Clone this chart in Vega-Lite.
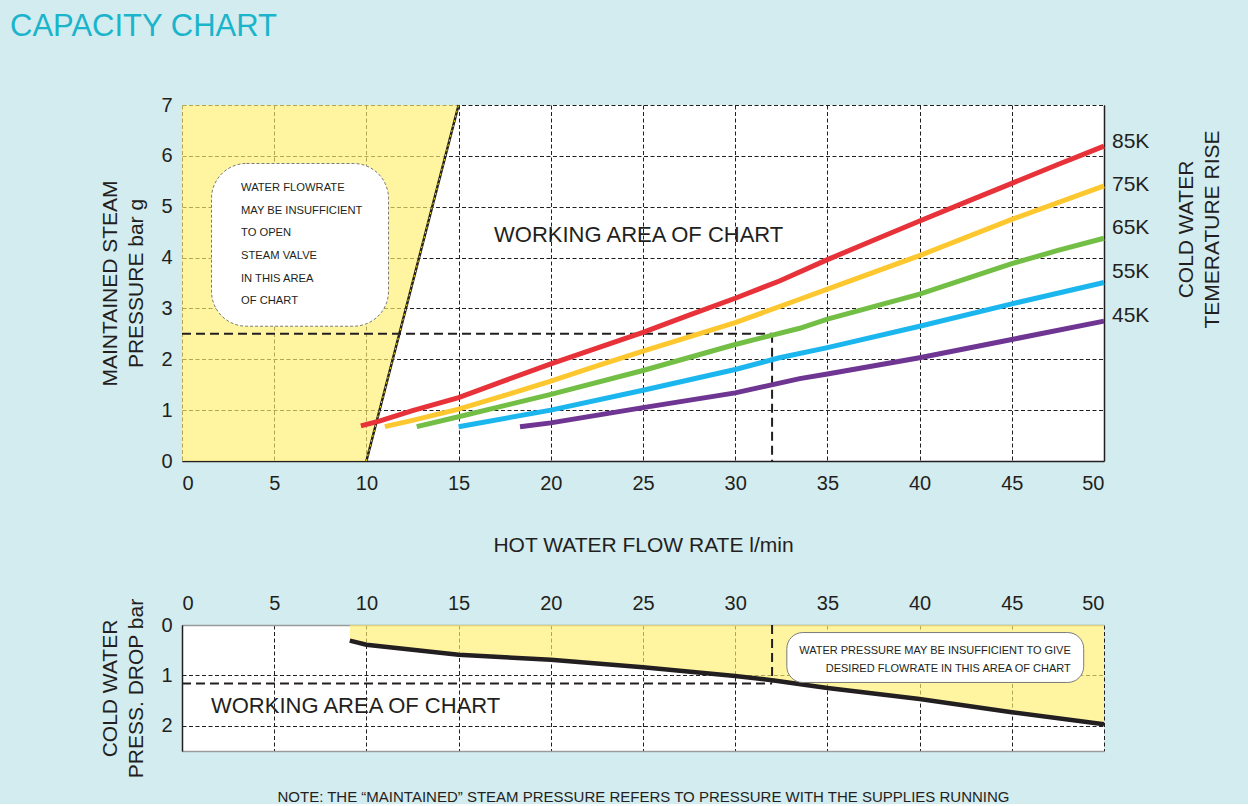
{
  "$schema": "https://vega.github.io/schema/vega-lite/v6.json",
  "background": "#d3ecf0",
  "padding": {"left": 10, "top": 11, "right": 28, "bottom": 0},
  "bounds": "flush",
  "spacing": 164,
  "config": {
    "font": "Liberation Sans",
    "view": {"stroke": null, "fill": "white"},
    "axis": {
      "labelFontSize": 20,
      "labelColor": "#231f20",
      "labelFont": "Liberation Sans",
      "ticks": false,
      "gridColor": "#231f20",
      "gridDash": [4, 2.5],
      "gridWidth": 1,
      "gridOpacity": 1,
      "domainColor": "#231f20",
      "domainWidth": 1.5,
      "titleFontSize": 21,
      "titleFontWeight": "normal",
      "titleColor": "#231f20",
      "titleFont": "Liberation Sans",
      "titleLineHeight": 26
    },
    "text": {"color": "#231f20", "font": "Liberation Sans"}
  },
  "datasets": {
    "curves": [
      {"rise": "85K", "flow": 9.7, "pressure": 0.69},
      {"rise": "85K", "flow": 10.74, "pressure": 0.79},
      {"rise": "85K", "flow": 12.5, "pressure": 0.99},
      {"rise": "85K", "flow": 15, "pressure": 1.245},
      {"rise": "85K", "flow": 17.5, "pressure": 1.58},
      {"rise": "85K", "flow": 20, "pressure": 1.91},
      {"rise": "85K", "flow": 22.5, "pressure": 2.22},
      {"rise": "85K", "flow": 25, "pressure": 2.53},
      {"rise": "85K", "flow": 27.5, "pressure": 2.87},
      {"rise": "85K", "flow": 30, "pressure": 3.2},
      {"rise": "85K", "flow": 32.4, "pressure": 3.54},
      {"rise": "85K", "flow": 35, "pressure": 3.96},
      {"rise": "85K", "flow": 37.5, "pressure": 4.34},
      {"rise": "85K", "flow": 40, "pressure": 4.72},
      {"rise": "85K", "flow": 42.5, "pressure": 5.09},
      {"rise": "85K", "flow": 45, "pressure": 5.46},
      {"rise": "85K", "flow": 47.5, "pressure": 5.83},
      {"rise": "85K", "flow": 50, "pressure": 6.19},
      {"rise": "75K", "flow": 11.0, "pressure": 0.675},
      {"rise": "75K", "flow": 12.5, "pressure": 0.8},
      {"rise": "75K", "flow": 15, "pressure": 1.02},
      {"rise": "75K", "flow": 17.5, "pressure": 1.29},
      {"rise": "75K", "flow": 20, "pressure": 1.57},
      {"rise": "75K", "flow": 22.5, "pressure": 1.87},
      {"rise": "75K", "flow": 25, "pressure": 2.16},
      {"rise": "75K", "flow": 27.5, "pressure": 2.44},
      {"rise": "75K", "flow": 30, "pressure": 2.72},
      {"rise": "75K", "flow": 33.5, "pressure": 3.18},
      {"rise": "75K", "flow": 35, "pressure": 3.38},
      {"rise": "75K", "flow": 40, "pressure": 4.04},
      {"rise": "75K", "flow": 45, "pressure": 4.75},
      {"rise": "75K", "flow": 50, "pressure": 5.41},
      {"rise": "65K", "flow": 12.73, "pressure": 0.675},
      {"rise": "65K", "flow": 15, "pressure": 0.87},
      {"rise": "65K", "flow": 20, "pressure": 1.31},
      {"rise": "65K", "flow": 25, "pressure": 1.78},
      {"rise": "65K", "flow": 30, "pressure": 2.29},
      {"rise": "65K", "flow": 33.5, "pressure": 2.61},
      {"rise": "65K", "flow": 35, "pressure": 2.79},
      {"rise": "65K", "flow": 40, "pressure": 3.28},
      {"rise": "65K", "flow": 45, "pressure": 3.88},
      {"rise": "65K", "flow": 47.5, "pressure": 4.14},
      {"rise": "65K", "flow": 50, "pressure": 4.38},
      {"rise": "55K", "flow": 15, "pressure": 0.675},
      {"rise": "55K", "flow": 20, "pressure": 1.0},
      {"rise": "55K", "flow": 25, "pressure": 1.39},
      {"rise": "55K", "flow": 30, "pressure": 1.8},
      {"rise": "55K", "flow": 32.4, "pressure": 2.03},
      {"rise": "55K", "flow": 35, "pressure": 2.23},
      {"rise": "55K", "flow": 40, "pressure": 2.65},
      {"rise": "55K", "flow": 45, "pressure": 3.09},
      {"rise": "55K", "flow": 50, "pressure": 3.51},
      {"rise": "45K", "flow": 18.33, "pressure": 0.675},
      {"rise": "45K", "flow": 20, "pressure": 0.75},
      {"rise": "45K", "flow": 25, "pressure": 1.05},
      {"rise": "45K", "flow": 30, "pressure": 1.34},
      {"rise": "45K", "flow": 33.5, "pressure": 1.62},
      {"rise": "45K", "flow": 35, "pressure": 1.71},
      {"rise": "45K", "flow": 40, "pressure": 2.03},
      {"rise": "45K", "flow": 45, "pressure": 2.39},
      {"rise": "45K", "flow": 50, "pressure": 2.75}
    ],
    "curveLabels": [
      {"rise": "85K", "labelPressure": 6.27},
      {"rise": "75K", "labelPressure": 5.43},
      {"rise": "65K", "labelPressure": 4.58},
      {"rise": "55K", "labelPressure": 3.72},
      {"rise": "45K", "labelPressure": 2.85}
    ],
    "valveLimit": [
      {"pressure": 0, "flow": 10},
      {"pressure": 7, "flow": 15}
    ],
    "dropLimit": [
      {"flow": 9.1, "drop": 0.31},
      {"flow": 10, "drop": 0.39},
      {"flow": 12.5, "drop": 0.49},
      {"flow": 15, "drop": 0.59},
      {"flow": 17.5, "drop": 0.64},
      {"flow": 20, "drop": 0.69},
      {"flow": 25, "drop": 0.84},
      {"flow": 30, "drop": 1.01},
      {"flow": 32.1, "drop": 1.1},
      {"flow": 35, "drop": 1.25},
      {"flow": 40, "drop": 1.47},
      {"flow": 45, "drop": 1.73},
      {"flow": 50, "drop": 1.97}
    ]
  },
  "vconcat": [
    {
      "width": 922,
      "height": 356,
      "title": {
        "text": "CAPACITY CHART",
        "anchor": "start",
        "frame": "group",
        "dx": -172,
        "offset": 52,
        "fontSize": 31,
        "fontWeight": "normal",
        "font": "Liberation Sans",
        "color": "#1ab4cb"
      },
      "resolve": {"axis": {"y": "independent"}},
      "layer": [
        {
          "data": {"name": "valveLimit"},
          "mark": {"type": "area", "orient": "horizontal", "color": "#fff06e", "opacity": 0.65},
          "encoding": {
            "y": {
              "field": "pressure", "type": "quantitative",
              "scale": {"domain": [0, 7], "nice": false},
              "axis": {
                "values": [0, 1, 2, 3, 4, 5, 6, 7],
                "grid": true, "domain": false, "labelPadding": 10,
                "title": ["MAINTAINED STEAM", "PRESSURE bar g"],
                "titlePadding": 14
              }
            },
            "x": {
              "field": "flow", "type": "quantitative",
              "scale": {"domain": [0, 50], "nice": false},
              "axis": {
                "values": [0, 5, 10, 15, 20, 25, 30, 35, 40, 45, 50],
                "grid": true, "domain": true, "labelPadding": 12, "title": null
              }
            },
            "x2": {"datum": 0}
          }
        },
        {
          "data": {"name": "valveLimit"},
          "mark": {"type": "line", "color": "#231f20", "strokeWidth": 2.5},
          "encoding": {
            "x": {"field": "flow", "type": "quantitative"},
            "y": {"field": "pressure", "type": "quantitative", "axis": null}
          }
        },
        {
          "data": {"name": "valveLimit"},
          "mark": {"type": "line", "color": "#ffe600", "strokeWidth": 1, "strokeDash": [2, 3]},
          "encoding": {
            "x": {"field": "flow", "type": "quantitative"},
            "y": {"field": "pressure", "type": "quantitative", "axis": null}
          }
        },
        {
          "data": {"values": [{"f1": 1.6, "f2": 11.2, "p1": 2.65, "p2": 5.85}]},
          "mark": {"type": "rect", "fill": "white", "stroke": "#7a7a7a", "strokeWidth": 1, "strokeDash": [3, 2], "cornerRadius": 35},
          "encoding": {
            "x": {"field": "f1", "type": "quantitative"},
            "x2": {"field": "f2"},
            "y": {"field": "p1", "type": "quantitative", "axis": null},
            "y2": {"field": "p2"}
          }
        },
        {
          "data": {"values": [
            {"line": "WATER FLOWRATE", "flow": 3.2, "pressure": 5.37},
            {"line": "MAY BE INSUFFICIENT", "flow": 3.2, "pressure": 4.92},
            {"line": "TO OPEN", "flow": 3.2, "pressure": 4.48},
            {"line": "STEAM VALVE", "flow": 3.2, "pressure": 4.03},
            {"line": "IN THIS AREA", "flow": 3.2, "pressure": 3.58},
            {"line": "OF CHART", "flow": 3.2, "pressure": 3.15}
          ]},
          "mark": {"type": "text", "align": "left", "baseline": "middle", "fontSize": 11.2},
          "encoding": {
            "x": {"field": "flow", "type": "quantitative"},
            "y": {"field": "pressure", "type": "quantitative", "axis": null},
            "text": {"field": "line"}
          }
        },
        {
          "data": {"values": [{"label": "WORKING AREA OF CHART", "flow": 16.92, "pressure": 4.44}]},
          "mark": {"type": "text", "align": "left", "baseline": "middle", "fontSize": 22},
          "encoding": {
            "x": {"field": "flow", "type": "quantitative"},
            "y": {"field": "pressure", "type": "quantitative", "axis": null},
            "text": {"field": "label"}
          }
        },
        {
          "data": {"values": [
            {"f1": 0, "f2": 32, "p1": 2.5, "p2": 2.5},
            {"f1": 32, "f2": 32, "p1": 2.5, "p2": 0}
          ]},
          "mark": {"type": "rule", "color": "#231f20", "strokeWidth": 2, "strokeDash": [9, 5]},
          "encoding": {
            "x": {"field": "f1", "type": "quantitative"},
            "x2": {"field": "f2"},
            "y": {"field": "p1", "type": "quantitative", "axis": null},
            "y2": {"field": "p2"}
          }
        },
        {
          "data": {"name": "curves"},
          "mark": {"type": "line", "strokeWidth": 5},
          "encoding": {
            "x": {"field": "flow", "type": "quantitative"},
            "y": {"field": "pressure", "type": "quantitative", "axis": null},
            "color": {
              "field": "rise", "type": "nominal", "legend": null,
              "scale": {"domain": ["85K", "75K", "65K", "55K", "45K"], "range": ["#e8323a", "#fdc82f", "#73bf45", "#1cb6ee", "#6f3592"]}
            }
          }
        },
        {
          "data": {"name": "curveLabels"},
          "mark": {"type": "text", "align": "left", "baseline": "middle", "fontSize": 21, "dx": 8},
          "encoding": {
            "x": {"datum": 50, "type": "quantitative"},
            "y": {
              "field": "labelPressure", "type": "quantitative",
              "axis": {
                "orient": "right", "labels": false, "ticks": false, "grid": false,
                "domain": true, "domainColor": "#231f20", "domainWidth": 1.5,
                "title": ["COLD WATER", "TEMERATURE RISE"],
                "titleAngle": 270, "titlePadding": 66, "titleY": 124
              }
            },
            "text": {"field": "rise"}
          }
        }
      ]
    },
    {
      "width": 922,
      "height": 126,
      "resolve": {"axis": {"x": "independent"}},
      "layer": [
        {
          "data": {"name": "dropLimit"},
          "mark": {"type": "area", "color": "#fff06e", "opacity": 0.65},
          "encoding": {
            "x": {
              "field": "flow", "type": "quantitative",
              "scale": {"domain": [0, 50], "nice": false},
              "axis": {
                "orient": "top",
                "values": [0, 5, 10, 15, 20, 25, 30, 35, 40, 45, 50],
                "grid": true, "domain": true, "domainColor": "#9a9a9a",
                "labelPadding": 12,
                "title": "HOT WATER FLOW RATE l/min",
                "titlePadding": 38
              }
            },
            "y": {
              "field": "drop", "type": "quantitative",
              "scale": {"domain": [0, 2.5], "nice": false, "reverse": true},
              "axis": {
                "values": [0, 1, 2], "format": "d",
                "grid": true, "domain": true, "labelPadding": 10,
                "title": ["COLD WATER", "PRESS. DROP bar"],
                "titlePadding": 14
              }
            },
            "y2": {"datum": 0}
          }
        },
        {
          "data": {"name": "dropLimit"},
          "mark": {"type": "line", "color": "#231f20", "strokeWidth": 4.5},
          "encoding": {
            "x": {"field": "flow", "type": "quantitative", "axis": null},
            "y": {"field": "drop", "type": "quantitative"}
          }
        },
        {
          "data": {"values": [
            {"f1": 0, "f2": 32, "d1": 1.16, "d2": 1.16},
            {"f1": 32, "f2": 32, "d1": 0, "d2": 1.14}
          ]},
          "mark": {"type": "rule", "color": "#231f20", "strokeWidth": 2, "strokeDash": [9, 5]},
          "encoding": {
            "x": {
              "field": "f1", "type": "quantitative",
              "axis": {
                "orient": "bottom", "labels": false, "ticks": false, "grid": false,
                "domain": true, "domainColor": "#9a9a9a",
                "title": "NOTE: THE \u201cMAINTAINED\u201d STEAM PRESSURE REFERS TO PRESSURE WITH THE SUPPLIES RUNNING",
                "titleFontSize": 15, "titlePadding": 38
              }
            },
            "x2": {"field": "f2"},
            "y": {"field": "d1", "type": "quantitative"},
            "y2": {"field": "d2"}
          }
        },
        {
          "data": {"values": [{"f1": 32.8, "f2": 48.9, "d1": 0.15, "d2": 1.14}]},
          "mark": {"type": "rect", "fill": "white", "stroke": "#7a7a7a", "strokeWidth": 1, "cornerRadius": 16},
          "encoding": {
            "x": {"field": "f1", "type": "quantitative", "axis": null},
            "x2": {"field": "f2"},
            "y": {"field": "d1", "type": "quantitative"},
            "y2": {"field": "d2"}
          }
        },
        {
          "data": {"values": [
            {"line": "WATER PRESSURE MAY BE INSUFFICIENT TO GIVE", "flow": 48.2, "drop": 0.51},
            {"line": "DESIRED FLOWRATE IN THIS AREA OF CHART", "flow": 48.2, "drop": 0.87}
          ]},
          "mark": {"type": "text", "align": "right", "baseline": "middle", "fontSize": 11},
          "encoding": {
            "x": {"field": "flow", "type": "quantitative", "axis": null},
            "y": {"field": "drop", "type": "quantitative"},
            "text": {"field": "line"}
          }
        },
        {
          "data": {"values": [{"label": "WORKING AREA OF CHART", "flow": 1.57, "drop": 1.6}]},
          "mark": {"type": "text", "align": "left", "baseline": "middle", "fontSize": 22},
          "encoding": {
            "x": {"field": "flow", "type": "quantitative", "axis": null},
            "y": {"field": "drop", "type": "quantitative"},
            "text": {"field": "label"}
          }
        }
      ]
    }
  ]
}
